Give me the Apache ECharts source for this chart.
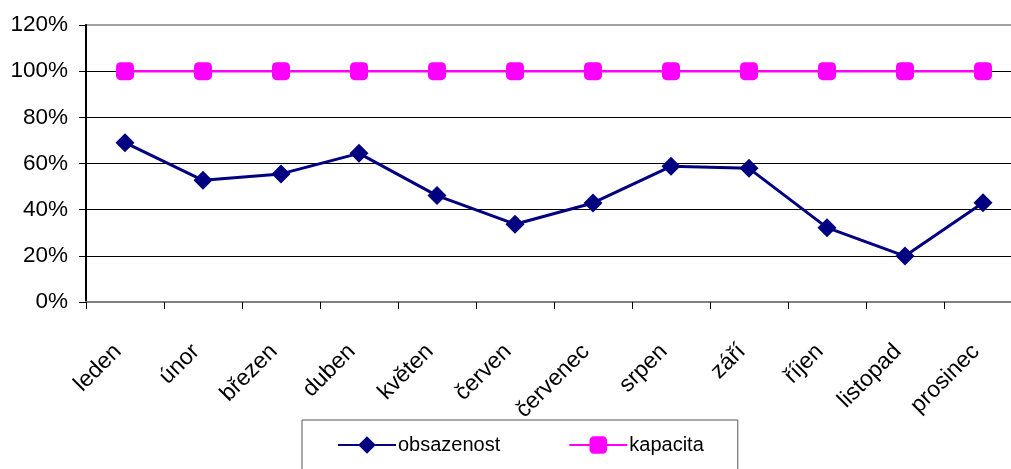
<!DOCTYPE html>
<html lang="en">
<head>
    <meta charset="utf-8">
    <title>obsazenost</title>
    <script src="https://cdn.jsdelivr.net/npm/echarts@6/dist/echarts.min.js"></script>
    <style>
        html, body { margin: 0; padding: 0; background: #fff; }
    </style>
</head>
<body>

<div id="main" style="width: 1011px;height:469px;"></div>

<script>
    // data
    var months = ['leden', 'únor', 'březen', 'duben', 'květen', 'červen', 'červenec', 'srpen', 'září', 'říjen', 'listopad', 'prosinec'];
    var obsazenost = [69.0, 52.7, 55.5, 64.4, 46.1, 33.7, 42.9, 58.8, 57.9, 32.2, 19.9, 43.0];
    var kapacita = [100, 100, 100, 100, 100, 100, 100, 100, 100, 100, 100, 100];
    var yTicks = [0, 20, 40, 60, 80, 100, 120];

    var font = 'Arial, "Liberation Sans", sans-serif';
    var myChart = echarts.init(document.getElementById('main'));

    var option = {
        animation: false,
        grid: {
            left: 86,
            top: 25,
            width: 936, // plot runs a bit past the right edge, as in the picture
            bottom: 167,
            outerBoundsMode: 'none',
            containLabel: false,
            show: true,
            borderColor: '#a0a0a0',
            borderWidth: 2
        },
        legend: {
            data: ['obsazenost', 'kapacita'],
            left: 302,
            top: 420,
            padding: [15, 34, 40, 35],
            itemWidth: 58,
            itemHeight: 22,
            itemGap: 68,
            borderColor: '#555',
            borderWidth: 1,
            textStyle: { fontFamily: font, fontSize: 20, color: '#000', padding: [0, 0, 0, -3] }
        },
        xAxis: {
            type: 'category',
            data: months,
            boundaryGap: true,
            axisLine: { lineStyle: { color: '#808080', width: 2 } },
            axisTick: { show: true, length: 7, lineStyle: { color: '#000' } },
            axisLabel: {
                rotate: 45,
                interval: 0,
                margin: 39,
                padding: [0, 10, 0, 0],
                fontFamily: font,
                fontSize: 23,
                color: '#000'
            }
        },
        yAxis: {
            type: 'value',
            min: 0,
            max: 120,
            interval: 20,
            axisLine: { show: true, lineStyle: { color: '#000', width: 2 } },
            axisTick: { show: true, length: 7, lineStyle: { color: '#000' } },
            axisLabel: {
                margin: 18,
                fontFamily: font,
                fontSize: 22.5,
                color: '#000',
                formatter: function (v) { return yTicks.indexOf(v) >= 0 ? v + '%' : ''; }
            },
            splitLine: { show: true, showMaxLine: false, lineStyle: { color: '#000', width: 1 } }
        },
        series: [
            {
                name: 'obsazenost',
                type: 'line',
                data: obsazenost,
                symbol: 'diamond',
                symbolSize: 19,
                color: '#000080',
                lineStyle: { color: '#000080', width: 3 },
                itemStyle: { color: '#000080' },
                z: 3
            },
            {
                name: 'kapacita',
                type: 'line',
                data: kapacita,
                symbol: 'roundRect',
                symbolSize: 18,
                color: '#ff00ff',
                lineStyle: { color: '#ff00ff', width: 2.5 },
                itemStyle: { color: '#ff00ff' },
                z: 2
            }
        ]
    };

    myChart.setOption(option);
</script>
</body>
</html>
